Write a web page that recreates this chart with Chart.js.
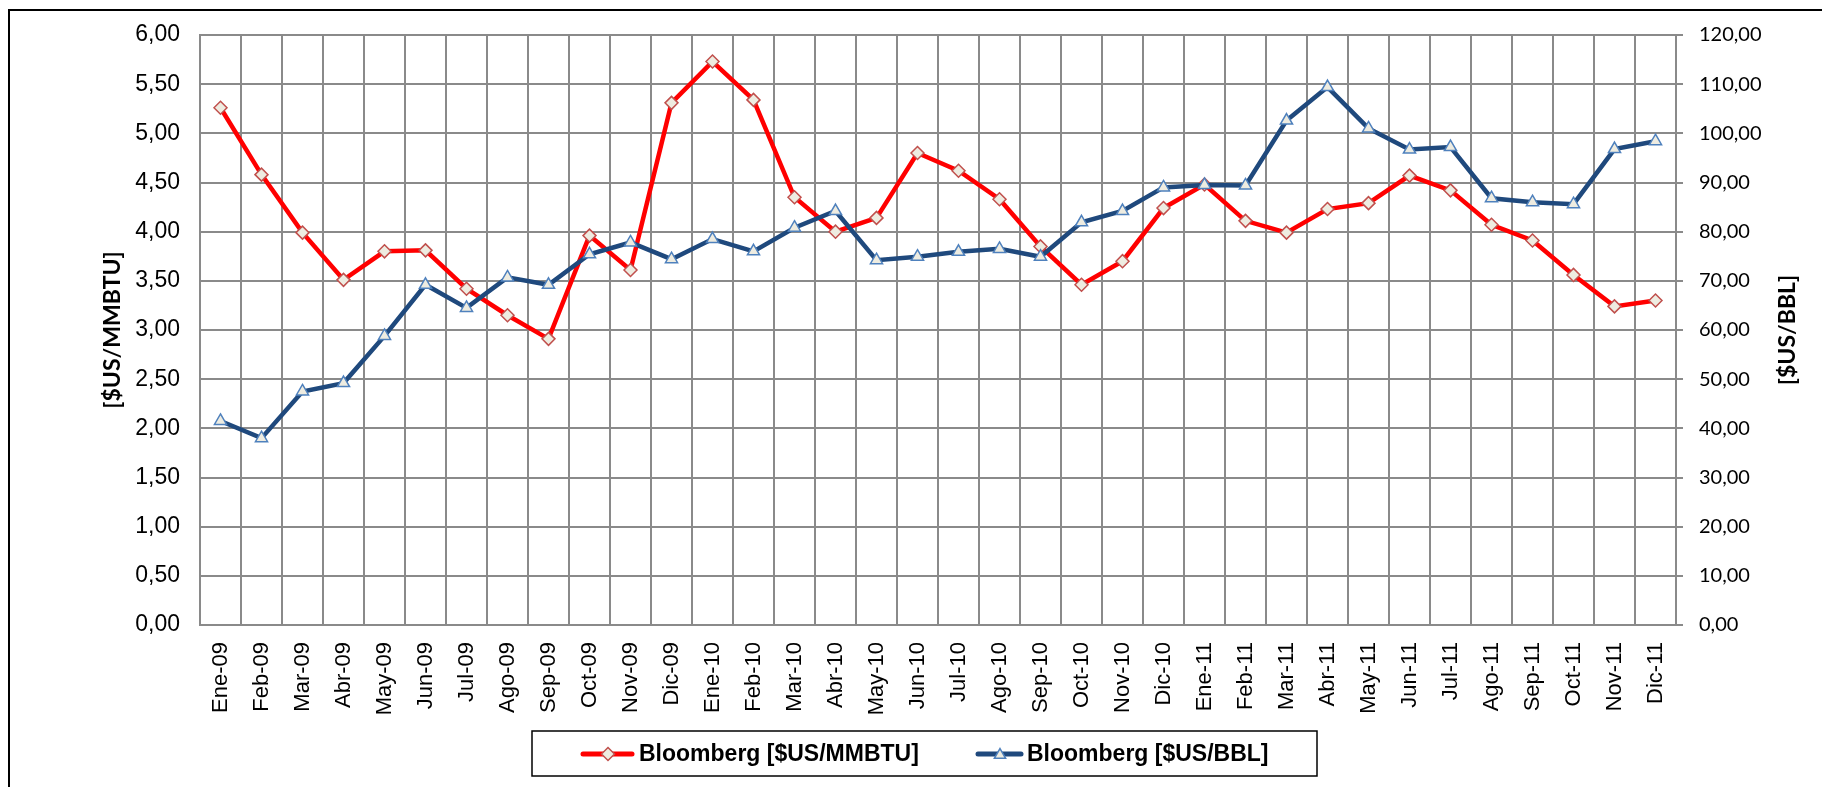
<!DOCTYPE html>
<html>
<head>
<meta charset="utf-8">
<script src="https://cdn.jsdelivr.net/npm/chart.js@4"></script>
<style>
  html, body { margin: 0; padding: 0; background: #fff; }
  canvas { display: block; }
</style>
</head>
<body>
<canvas id="grafico" width="1822" height="787"></canvas>
<script>
// Datos
const meses = ['Ene-09','Feb-09','Mar-09','Abr-09','May-09','Jun-09','Jul-09','Ago-09','Sep-09','Oct-09','Nov-09','Dic-09',
               'Ene-10','Feb-10','Mar-10','Abr-10','May-10','Jun-10','Jul-10','Ago-10','Sep-10','Oct-10','Nov-10','Dic-10',
               'Ene-11','Feb-11','Mar-11','Abr-11','May-11','Jun-11','Jul-11','Ago-11','Sep-11','Oct-11','Nov-11','Dic-11'];

const gasMMBTU = [5.26, 4.58, 3.99, 3.51, 3.80, 3.81, 3.42, 3.15, 2.91, 3.96, 3.61, 5.31,
                  5.73, 5.34, 4.35, 4.00, 4.14, 4.80, 4.62, 4.33, 3.85, 3.46, 3.70, 4.24,
                  4.48, 4.11, 3.99, 4.23, 4.29, 4.57, 4.42, 4.07, 3.91, 3.56, 3.24, 3.30];

const petroleoBBL = [41.5, 38.0, 47.5, 49.2, 58.8, 69.2, 64.5, 70.7, 69.2, 75.4, 77.8, 74.4,
                     78.5, 76.0, 80.8, 84.2, 74.2, 74.9, 75.9, 76.5, 74.9, 81.9, 84.2, 89.0,
                     89.5, 89.4, 102.6, 109.4, 101.0, 96.7, 97.2, 86.8, 86.0, 85.6, 96.8, 98.4];

const etiquetaGas = 'Bloomberg [$US/MMBTU]';
const etiquetaPetroleo = 'Bloomberg [$US/BBL]';
const tituloIzq = '[$US/MMBTU]';
const tituloDer = '[$US/BBL]';

const ROJO = '#FF0000';
const AZUL = '#1F497D';
const RELLENO = '#EEECE1';
const GRIS = '#8a8a8a';

const coma = v => v.toFixed(2).replace('.', ',');

// marcadores dibujados a mano para la leyenda
function rombo(ctx, x, y, r) {
    ctx.beginPath();
    ctx.moveTo(x - r, y); ctx.lineTo(x, y - r); ctx.lineTo(x + r, y); ctx.lineTo(x, y + r);
    ctx.closePath();
}
function triangulo(ctx, x, y, r) {
    ctx.beginPath();
    ctx.moveTo(x, y - r);
    ctx.lineTo(x + r * Math.sin(2 * Math.PI / 3), y - r * Math.cos(2 * Math.PI / 3));
    ctx.lineTo(x + r * Math.sin(4 * Math.PI / 3), y - r * Math.cos(4 * Math.PI / 3));
    ctx.closePath();
}

const extras = {
    id: 'extras',
    beforeDraw(chart) {
        const ctx = chart.ctx;
        ctx.save();
        ctx.fillStyle = '#fff';
        ctx.fillRect(0, 0, chart.width, chart.height);
        // marco exterior
        ctx.strokeStyle = '#000';
        ctx.lineWidth = 2;
        ctx.strokeRect(9, 10, chart.width + 20, chart.height + 20);
        ctx.restore();
    },
    afterDraw(chart) {
        const ctx = chart.ctx;
        const area = chart.chartArea;
        const cy = (area.top + area.bottom) / 2;
        ctx.save();
        // títulos de ejes (ambos de abajo hacia arriba)
        ctx.fillStyle = '#000';
        ctx.font = 'bold 23px Lato';
        ctx.textAlign = 'center';
        ctx.textBaseline = 'middle';
        [[113, tituloIzq], [1788, tituloDer]].forEach(([x, t]) => {
            ctx.save();
            ctx.translate(x, cy);
            ctx.rotate(-Math.PI / 2);
            ctx.fillText(t, 0, 0);
            ctx.restore();
        });

        // leyenda
        ctx.strokeStyle = '#000';
        ctx.lineWidth = 1.5;
        ctx.strokeRect(532, 731, 785, 45);
        const ly = 754;
        ctx.lineCap = 'round';
        ctx.lineWidth = 5;
        ctx.strokeStyle = ROJO;
        ctx.beginPath(); ctx.moveTo(583, ly); ctx.lineTo(632, ly); ctx.stroke();
        ctx.lineWidth = 1.5;
        ctx.fillStyle = RELLENO; ctx.strokeStyle = '#C0504D';
        rombo(ctx, 608, ly, 6.5); ctx.fill(); ctx.stroke();

        ctx.lineWidth = 5;
        ctx.strokeStyle = AZUL;
        ctx.beginPath(); ctx.moveTo(978, ly); ctx.lineTo(1021, ly); ctx.stroke();
        ctx.lineWidth = 1.5;
        ctx.fillStyle = RELLENO; ctx.strokeStyle = '#4F81BD';
        triangulo(ctx, 1000, ly + 1, 6.5); ctx.fill(); ctx.stroke();

        ctx.fillStyle = '#000';
        ctx.font = 'bold 23px "Liberation Sans", Arial';
        ctx.textAlign = 'left';
        ctx.fillText(etiquetaGas, 639, ly + 1);
        ctx.fillText(etiquetaPetroleo, 1027, ly + 1);
        ctx.restore();
    }
};

new Chart(document.getElementById('grafico'), {
    type: 'line',
    data: {
        labels: meses,
        datasets: [
            {
                label: etiquetaGas,
                data: gasMMBTU,
                yAxisID: 'yIzq',
                borderColor: ROJO,
                borderWidth: 4.5,
                pointStyle: 'rectRot',
                pointRadius: 6.5,
                pointBorderWidth: 1.5,
                pointBackgroundColor: RELLENO,
                pointBorderColor: '#C0504D',
                tension: 0,
                order: 1
            },
            {
                label: etiquetaPetroleo,
                data: petroleoBBL,
                yAxisID: 'yDer',
                borderColor: AZUL,
                borderWidth: 4.5,
                pointStyle: 'triangle',
                pointRadius: 7,
                pointBorderWidth: 1.5,
                pointBackgroundColor: RELLENO,
                pointBorderColor: '#4F81BD',
                tension: 0,
                order: 0
            }
        ]
    },
    options: {
        responsive: false,
        animation: false,
        layout: { padding: { top: 35, left: 0, right: 0, bottom: 0 } },
        plugins: {
            legend: { display: false },
            tooltip: { enabled: false }
        },
        scales: {
            x: {
                offset: true,
                grid: { offset: true, color: GRIS, lineWidth: 2, drawTicks: false },
                border: { color: GRIS, width: 2 },
                ticks: {
                    minRotation: 90, maxRotation: 90, padding: 17, color: '#000',
                    font: { family: '"Liberation Sans", Arial', size: 22 }
                },
                afterFit: s => { s.height = 162; }
            },
            yIzq: {
                position: 'left',
                min: 0, max: 6,
                grid: { color: GRIS, lineWidth: 2, drawTicks: false },
                border: { color: GRIS, width: 2 },
                ticks: {
                    stepSize: 0.5, padding: 20, color: '#000',
                    font: { family: '"Liberation Sans", Arial', size: 23 },
                    callback: v => coma(v)
                },
                afterFit: s => { s.width = 200; }
            },
            yDer: {
                position: 'right',
                min: 0, max: 120,
                grid: { drawOnChartArea: false, color: GRIS, lineWidth: 2, drawTicks: true, tickLength: 7 },
                border: { color: GRIS, width: 2 },
                ticks: {
                    stepSize: 10, padding: 16, color: '#000',
                    font: { family: 'Lato', size: 20 },
                    callback: v => coma(v)
                },
                afterFit: s => { s.width = 146; }
            }
        }
    },
    plugins: [extras]
});
</script>
</body>
</html>
